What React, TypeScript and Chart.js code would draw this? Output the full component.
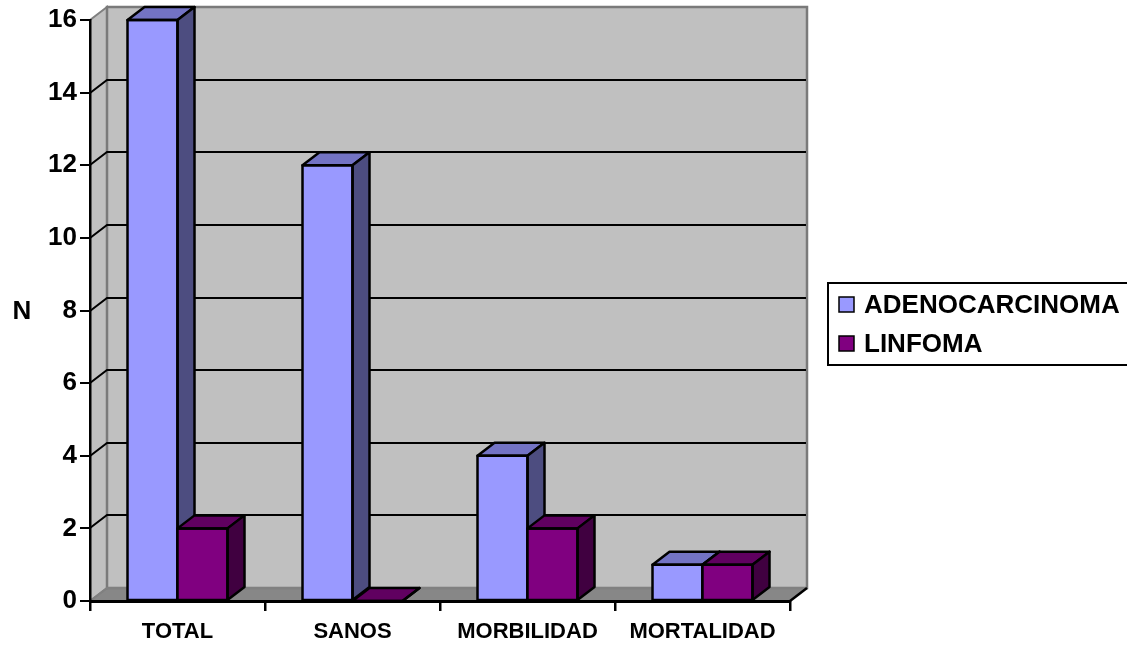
import { useEffect, useRef } from 'react';
import { Chart, registerables } from 'chart.js';

Chart.register(...registerables);

// Data
const categories = ['TOTAL', 'SANOS', 'MORBILIDAD', 'MORTALIDAD'];
const seriesNames = ['ADENOCARCINOMA', 'LINFOMA'];
const adenocarcinoma = [16, 12, 4, 1];
const linfoma = [2, 0, 2, 1];
const yMin = 0;
const yMax = 16;
const yStep = 2;
const axisTitle = 'N';

// Styling
const FONT = '"Liberation Sans", Arial, Helvetica, sans-serif';
const DEPTH_X = 17;
const DEPTH_Y = 13;
const faces = [
  { front: '#9999FF', top: '#7373C4', side: '#4D4D80' },
  { front: '#800080', top: '#600060', side: '#400040' },
];

type Pt = [number, number];

function path(ctx: CanvasRenderingContext2D, pts: Pt[]) {
  ctx.beginPath();
  ctx.moveTo(pts[0][0], pts[0][1]);
  for (let i = 1; i < pts.length; i++) ctx.lineTo(pts[i][0], pts[i][1]);
  ctx.closePath();
}

// Walls, floor and back gridlines of the 3D box
const wallsPlugin = {
  id: 'walls3d',
  beforeDraw(chart: any) {
    const ctx: CanvasRenderingContext2D = chart.ctx;
    const { left, right, top, bottom } = chart.chartArea;
    const ys = chart.scales.y;
    ctx.save();
    ctx.lineJoin = 'miter';

    // floor
    path(ctx, [
      [left, bottom],
      [right, bottom],
      [right + DEPTH_X, bottom - DEPTH_Y],
      [left + DEPTH_X, bottom - DEPTH_Y],
    ]);
    ctx.fillStyle = '#878787';
    ctx.fill();

    // left wall
    path(ctx, [
      [left, top],
      [left + DEPTH_X, top - DEPTH_Y],
      [left + DEPTH_X, bottom - DEPTH_Y],
      [left, bottom],
    ]);
    ctx.fillStyle = '#C0C0C0';
    ctx.fill();
    ctx.strokeStyle = '#808080';
    ctx.lineWidth = 2;
    ctx.stroke();

    // back wall
    ctx.fillStyle = '#C0C0C0';
    ctx.fillRect(left + DEPTH_X, top - DEPTH_Y, right - left, bottom - top);
    ctx.strokeStyle = '#7A7A7A';
    ctx.lineWidth = 2.5;
    ctx.strokeRect(left + DEPTH_X, top - DEPTH_Y, right - left, bottom - top);

    // floor edges
    ctx.strokeStyle = '#808080';
    ctx.lineWidth = 2;
    ctx.beginPath();
    ctx.moveTo(left, bottom);
    ctx.lineTo(left + DEPTH_X, bottom - DEPTH_Y);
    ctx.lineTo(right + DEPTH_X, bottom - DEPTH_Y);
    ctx.stroke();

    // gridlines on side and back wall
    ctx.strokeStyle = '#000';
    ctx.lineWidth = 2;
    for (let v = yMin + yStep; v < yMax; v += yStep) {
      const y = Math.round(ys.getPixelForValue(v));
      ctx.beginPath();
      ctx.moveTo(left, y);
      ctx.lineTo(left + DEPTH_X, y - DEPTH_Y);
      ctx.lineTo(right + DEPTH_X - 1, y - DEPTH_Y);
      ctx.stroke();
    }

    // right end of the category axis
    ctx.lineWidth = 2.5;
    ctx.beginPath();
    ctx.moveTo(right, bottom);
    ctx.lineTo(right + DEPTH_X, bottom - DEPTH_Y);
    ctx.stroke();
    ctx.restore();
  },
};

function drawFaces(ctx: CanvasRenderingContext2D, bar: any, col: { top: string; side: string }) {
  const { x, y, base, width } = bar.getProps(['x', 'y', 'base', 'width'], true);
  const l = x - width / 2;
  const r = x + width / 2;
  path(ctx, [
    [l, y],
    [l + DEPTH_X, y - DEPTH_Y],
    [r + DEPTH_X, y - DEPTH_Y],
    [r, y],
  ]);
  ctx.fillStyle = col.top;
  ctx.fill();
  ctx.stroke();
  path(ctx, [
    [r, y],
    [r + DEPTH_X, y - DEPTH_Y],
    [r + DEPTH_X, base - DEPTH_Y],
    [r, base],
  ]);
  ctx.fillStyle = col.side;
  ctx.fill();
  ctx.stroke();
  ctx.strokeRect(l, y, r - l, base - y);
}

// Top and side faces of the bars; the second series' front faces are
// re-drawn over the first series' side faces so each group reads in depth.
const barFacesPlugin = {
  id: 'barFaces3d',
  afterDatasetsDraw(chart: any) {
    const ctx: CanvasRenderingContext2D = chart.ctx;
    ctx.save();
    ctx.lineJoin = 'round';
    chart.data.datasets.forEach((_ds: any, di: number) => {
      const meta = chart.getDatasetMeta(di);
      meta.data.forEach((bar: any) => {
        if (di > 0) {
          ctx.save();
          bar.draw(ctx);
          ctx.restore();
        }
        ctx.lineWidth = 2.5;
        ctx.strokeStyle = '#000';
        drawFaces(ctx, bar, faces[di]);
      });
    });
    ctx.restore();
  },
};

// Boxed legend and horizontal axis title
const legendPlugin = {
  id: 'boxLegend',
  afterDraw(chart: any) {
    const ctx: CanvasRenderingContext2D = chart.ctx;
    ctx.save();
    // axis title
    ctx.fillStyle = '#000';
    ctx.font = `bold 26px ${FONT}`;
    ctx.textAlign = 'center';
    ctx.textBaseline = 'middle';
    ctx.fillText(axisTitle, 22, 312);

    // legend box
    const bx = 828;
    const by = 283;
    const bh = 82;
    ctx.strokeStyle = '#000';
    ctx.lineWidth = 2;
    ctx.strokeRect(bx, by, chart.width - bx + 10, bh);
    ctx.font = `bold 26px ${FONT}`;
    ctx.textAlign = 'left';
    chart.data.datasets.forEach((ds: any, i: number) => {
      const cy = by + 22 + i * 39;
      ctx.fillStyle = ds.backgroundColor;
      ctx.fillRect(839, cy - 8, 15, 15);
      ctx.lineWidth = 1.5;
      ctx.strokeRect(839, cy - 8, 15, 15);
      ctx.fillStyle = '#000';
      ctx.fillText(ds.label, 864, cy + 1);
    });
    ctx.restore();
  },
};

export default function App() {
  const ref = useRef<HTMLCanvasElement>(null);

  useEffect(() => {
    if (!ref.current) return;
    Chart.defaults.color = '#000';
    const chart = new Chart(ref.current, {
      type: 'bar',
      data: {
        labels: categories,
        datasets: [
          {
            label: seriesNames[0],
            data: adenocarcinoma,
            backgroundColor: faces[0].front,
            borderColor: '#000',
            borderWidth: 0,
          },
          {
            label: seriesNames[1],
            data: linfoma,
            backgroundColor: faces[1].front,
            borderColor: '#000',
            borderWidth: 0,
          },
        ],
      },
      options: {
        responsive: false,
        animation: false,
        events: [],
        layout: { padding: { top: 20, right: 337, left: 0, bottom: 0 } },
        datasets: {
          bar: { categoryPercentage: 100 / 175, barPercentage: 1 },
        },
        plugins: {
          legend: { display: false },
          tooltip: { enabled: false },
        },
        scales: {
          x: {
            grid: {
              offset: true,
              drawOnChartArea: false,
              drawTicks: true,
              tickLength: 10,
              color: '#000',
              lineWidth: 2.5,
            },
            border: { display: true, color: '#000', width: 3 },
            ticks: {
              font: { family: FONT, size: 22, weight: 'bold' },
              padding: 8,
              maxRotation: 0,
              autoSkip: false,
            },
            afterFit(scale: any) {
              scale.height = 44;
            },
          },
          y: {
            min: yMin,
            max: yMax,
            grid: {
              drawOnChartArea: false,
              drawTicks: true,
              tickLength: 10,
              color: '#000',
              lineWidth: 2,
            },
            border: { display: true, color: '#000', width: 2.5 },
            ticks: {
              stepSize: yStep,
              font: { family: FONT, size: 26, weight: 'bold' },
              padding: 3,
            },
            afterFit(scale: any) {
              scale.width = 90;
            },
          },
        },
      },
      plugins: [wallsPlugin, barFacesPlugin, legendPlugin],
    } as any);
    return () => chart.destroy();
  }, []);

  return (
    <div style={{ position: 'absolute', left: 0, top: 0, width: 1127, height: 645, background: '#fff' }}>
      <canvas ref={ref} width={1127} height={645} />
    </div>
  );
}
